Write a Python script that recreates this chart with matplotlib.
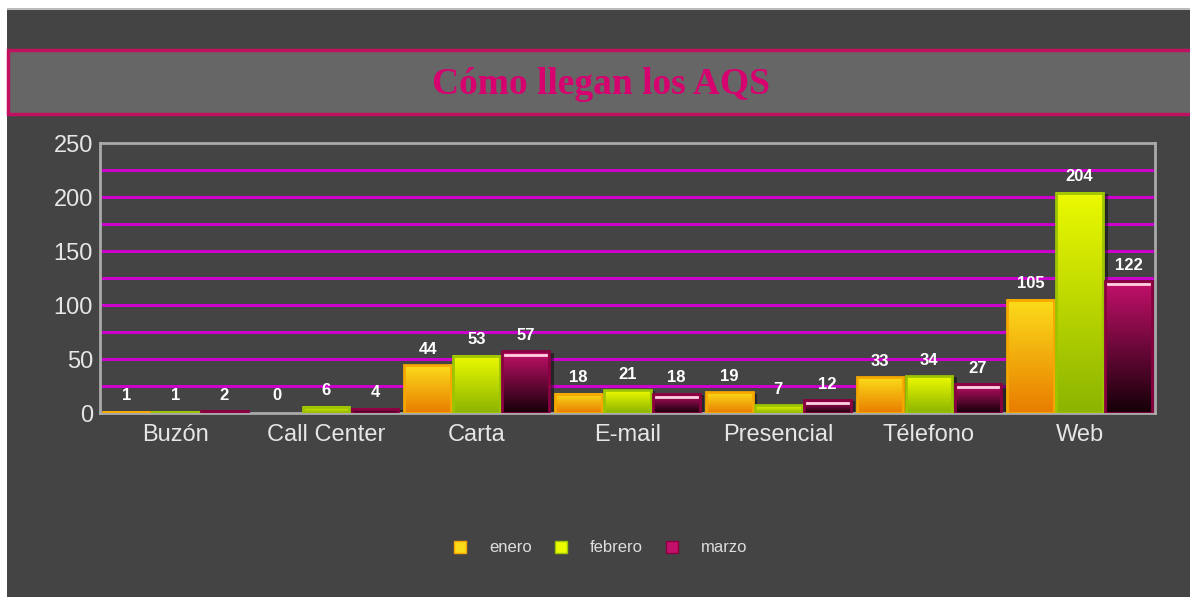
import matplotlib.pyplot as plt
import numpy as np
from matplotlib.colors import LinearSegmentedColormap
from matplotlib.patches import Rectangle

# data
categorias = ['Buzón', 'Call Center', 'Carta', 'E-mail', 'Presencial', 'Télefono', 'Web']
enero = [1, 0, 44, 18, 19, 33, 105]
febrero = [1, 6, 53, 21, 7, 34, 204]
marzo = [2, 4, 57, 18, 12, 27, 122]
meses = ['enero', 'febrero', 'marzo']

# (top colour, bottom colour, edge)
estilos = [('#fbdc1a', '#e97d00', '#f5a800'),
           ('#ecfa00', '#8cb400', '#9cc400'),
           ('#c3106a', '#150008', '#8a0040')]

fig = plt.figure(figsize=(11.9, 5.97), dpi=100)
fig.patch.set_facecolor('white')
# dark background panel
fig.patches.append(Rectangle((7/1190, 0), 1, 1 - 10/597, transform=fig.transFigure,
                             facecolor='#444444', edgecolor='none', zorder=-3))
fig.patches.append(Rectangle((7/1190, 1 - 10/597), 1, 2/597, transform=fig.transFigure,
                             facecolor='#bbbbbb', edgecolor='none', zorder=-3))
# title band
fig.patches.append(Rectangle((8/1190, 1 - 114/597), 1.2, 64/597, transform=fig.transFigure,
                             facecolor='#666666', edgecolor='#c0105f', linewidth=2.5, zorder=-2))
fig.text(0.505, 1 - 84/597, 'Cómo llegan los AQS', ha='center', va='center',
         fontsize=27, fontweight='bold', color='#d6006f', family='Liberation Serif')

ax = fig.add_axes([100/1190, 1 - 413/597, 1055/1190, 270/597])
ax.set_zorder(2)
ax.set_facecolor('#444444')

for y in range(25, 250, 25):
    ax.axhline(y, color='#cc00cc', linewidth=2.0, zorder=1, antialiased=False)

ancho = 0.31
x = np.arange(len(categorias)) + 0.5
grad = np.linspace(0, 1, 100).reshape(-1, 1)

for j, serie in enumerate([enero, febrero, marzo]):
    top, bottom, edge = estilos[j]
    cmap = LinearSegmentedColormap.from_list('g%d' % j, [bottom, top])
    for i, v in enumerate(serie):
        xc = x[i] + (j - 1) * (ancho + 0.015)
        x0, x1 = xc - ancho/2, xc + ancho/2
        if v > 0:
            # shadow
            ax.add_patch(Rectangle((x0 + 0.03, 0), ancho, v - 1, facecolor='black',
                                   alpha=0.45, edgecolor='none', zorder=2))
            ax.imshow(grad, extent=[x0, x1, 0, v], origin='lower', aspect='auto',
                      cmap=cmap, zorder=3)
            ax.add_patch(Rectangle((x0, 0), ancho, v, facecolor='none', edgecolor=edge,
                                   linewidth=2, zorder=4))
            if j == 2 and v > 5:
                ax.plot([x0 + 0.02, x1 - 0.02], [v - 3, v - 3], color='#ffd0e0',
                        linewidth=2, zorder=5)
        ax.annotate(str(v), (xc, max(v, 2)), xytext=(0, 6), textcoords='offset points',
                    ha='center', va='bottom', color='white', fontsize=12,
                    fontweight='bold', family='Liberation Sans', zorder=6)

ax.set_xlim(0, 7)
ax.set_ylim(0, 250)
ax.set_xticks(x)
ax.set_xticklabels(categorias)
ax.set_yticks(range(0, 251, 50))
ax.tick_params(colors='#e6e6e6', labelsize=17, length=0)
ax.tick_params(axis='x', pad=8)
ax.tick_params(axis='y', pad=5)
for lab in ax.get_xticklabels() + ax.get_yticklabels():
    lab.set_family('Liberation Sans')
for s in ax.spines.values():
    s.set_color('#aaaaaa')
    s.set_linewidth(2)

# legend
handles = [Rectangle((0, 0), 1, 1, facecolor=estilos[k][0], edgecolor=estilos[k][2])
           for k in range(3)]
leg = fig.legend(handles, meses, loc='center', bbox_to_anchor=(0.505, 1 - 548/597),
                 ncol=3, frameon=False, handlelength=0.7, handleheight=0.7,
                 columnspacing=1.4, handletextpad=1.4, prop={'family': 'Liberation Sans', 'size': 12})
for t in leg.get_texts():
    t.set_color('#dddddd')

fig.savefig('out.png', dpi=100, facecolor=fig.get_facecolor())
